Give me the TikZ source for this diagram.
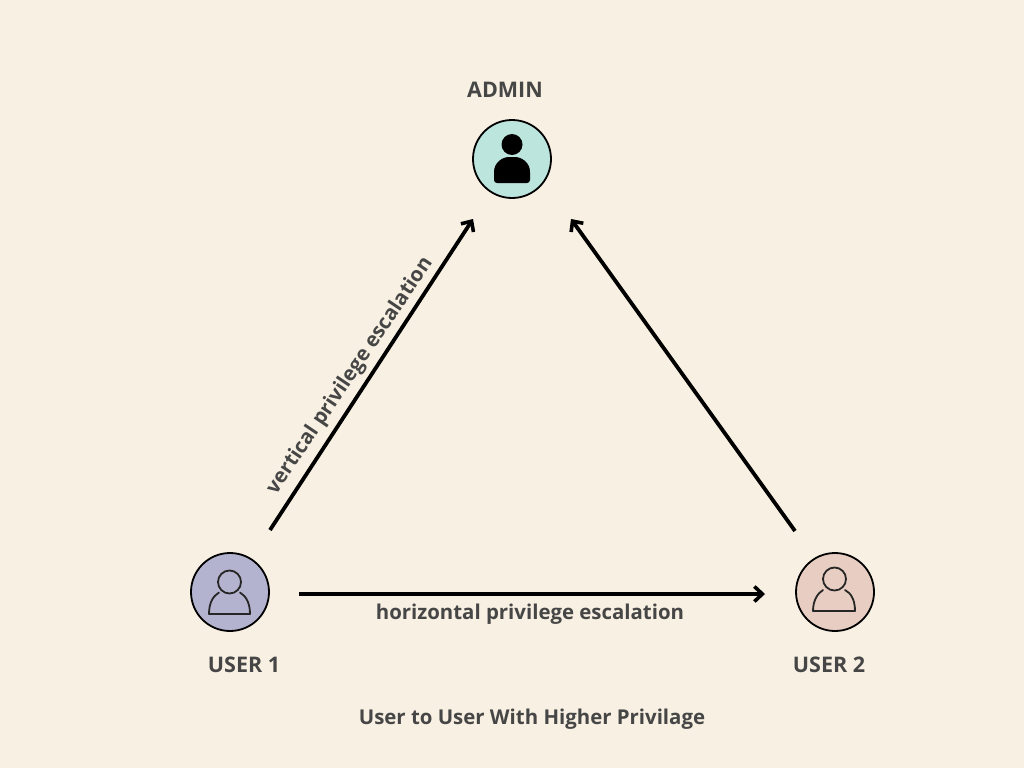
\documentclass[tikz,border=0pt]{standalone}
\usepackage{fontspec}
\setmainfont{Open Sans}[BoldFont={* Bold}]
\usetikzlibrary{arrows.meta}
\definecolor{bgc}{HTML}{F8F0E2}
\definecolor{txt}{HTML}{464646}
\definecolor{adm}{HTML}{BCE5DD}
\definecolor{uone}{HTML}{B3B3CF}
\definecolor{utwo}{HTML}{E8CDC2}
\tikzset{
 x=1pt,y=-1pt,
 circ/.style={circle,draw=black,line width=1.8pt,minimum size=78pt,inner sep=0pt},
 lab/.style={text=txt,font=\bfseries\fontsize{21.5}{24}\selectfont,inner sep=0pt},
 slab/.style={text=txt,font=\bfseries\fontsize{20.4}{24}\selectfont,inner sep=0pt},
 conn/.style={line width=3.8pt,-{Straight Barb[length=8pt,width=15pt,line width=3.6pt]}},
 icon/.style={draw=black!85,line width=1.8pt,line join=round,line cap=round}
}
\begin{document}
\begin{tikzpicture}
\fill[bgc] (0,0) rectangle (1024,768);
\useasboundingbox (0,0) rectangle (1024,768);
\node[circ,fill=adm] (admin) at (512,159) {};
\node[circ,fill=uone] (user1) at (230,592) {};
\node[circ,fill=utwo] (user2) at (835,592) {};
\node[lab] (ladmin) at (505,90) {ADMIN};
\node[lab] (luser1) at (244,665) {USER 1};
\node[lab] (luser2) at (829,665) {USER 2};
\node[slab] (cap) at (532,719.5) {User to User With Higher Privilage};
\coordinate (a1) at (270,530); \coordinate (a2) at (473,219);
\coordinate (b1) at (795,531); \coordinate (b2) at (571,219);
\coordinate (c1) at (299,594); \coordinate (c2) at (765,594);
\draw[conn] (a1) -- (a2);
\draw[conn] (b1) -- (b2);
\draw[conn] (c1) -- (c2);
\node[slab] (lh) at (530,614.5) {horizontal privilege escalation};
\node[slab,rotate=56] (lv) at (350,376) {vertical privilege escalation};
% admin icon
\fill[black] (512,144.5) circle (10.5);
\fill[black,rounded corners=3pt] (494,183) -- (494,175) .. controls (494,162) and (503,157) .. (512,157) .. controls (521,157) and (530,162) .. (530,175) -- (530,183) -- cycle;
% user icons
\draw[icon] (229.5,582) circle (11.5);
\draw[icon] (219,592.5) .. controls (213,596) and (209,603) .. (209,614) -- (250,614) .. controls (250,603) and (246,596) .. (240,592.5);
\draw[icon] (834.5,579) circle (11.5);
\draw[icon] (823,590) .. controls (818,593) and (813,600) .. (813,611) -- (855,611) .. controls (855,600) and (851,593) .. (845,590);
\end{tikzpicture}
\end{document}
